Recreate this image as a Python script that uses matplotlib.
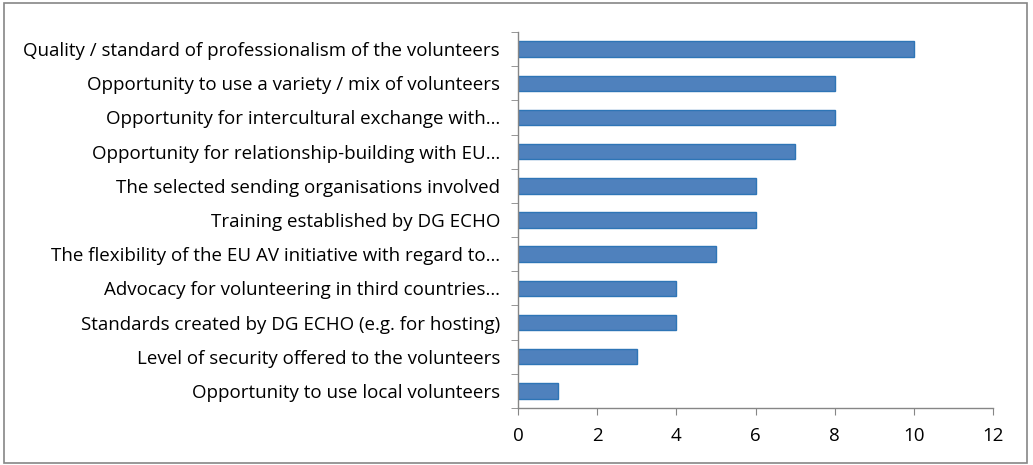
import matplotlib.pyplot as plt
import numpy as np
from matplotlib.patches import Rectangle

labels = [
    "Quality / standard of professionalism of the volunteers",
    "Opportunity to use a variety / mix of volunteers",
    "Opportunity for intercultural exchange with\u2026",
    "Opportunity for relationship-building with EU\u2026",
    "The selected sending organisations involved",
    "Training established by DG ECHO",
    "The flexibility of the EU AV initiative with regard to\u2026",
    "Advocacy for volunteering in third countries\u2026",
    "Standards created by DG ECHO (e.g. for hosting)",
    "Level of security offered to the volunteers",
    "Opportunity to use local volunteers",
]
values = [10, 8, 8, 7, 6, 6, 5, 4, 4, 3, 1]
x_ticks = [0, 2, 4, 6, 8, 10, 12]

plt.rcParams['font.family'] = ['Open Sans', 'DejaVu Sans']

fig = plt.figure(figsize=(10.33, 4.65), dpi=100)
ax = fig.add_axes([518 / 1033, 1 - 408 / 465, (993 - 518) / 1033, (408 - 32) / 465])

n = len(labels)
ypos = np.arange(n)[::-1]
ax.barh(ypos, values, height=0.45, color='#4F81BD', edgecolor='#2E75B6', linewidth=1)

ax.set_xlim(0, 12)
ax.set_ylim(-0.5, n - 0.5)
ax.set_xticks(x_ticks)
ax.set_xticklabels([str(v) for v in x_ticks], fontsize=13.5)
ax.set_yticks(ypos)
ax.set_yticklabels(labels, fontsize=13.5)
ax.tick_params(axis='y', length=0, pad=13)
ax.set_yticks(np.arange(-0.5, n, 1), minor=True)
ax.tick_params(axis='y', which='minor', length=5, color='#868686', direction='out')
ax.tick_params(axis='x', length=5, color='#868686', pad=9, direction='out')

for s in ['top', 'right']:
    ax.spines[s].set_visible(False)
for s in ['left', 'bottom']:
    ax.spines[s].set_color('#868686')
    ax.spines[s].set_linewidth(1)

# outer chart frame
fig.patches.append(Rectangle((4 / 1033, 2 / 465), 1023 / 1033, 460 / 465,
                             transform=fig.transFigure, fill=False,
                             edgecolor='#868686', linewidth=1.2))

fig.savefig("out.png", dpi=100)
